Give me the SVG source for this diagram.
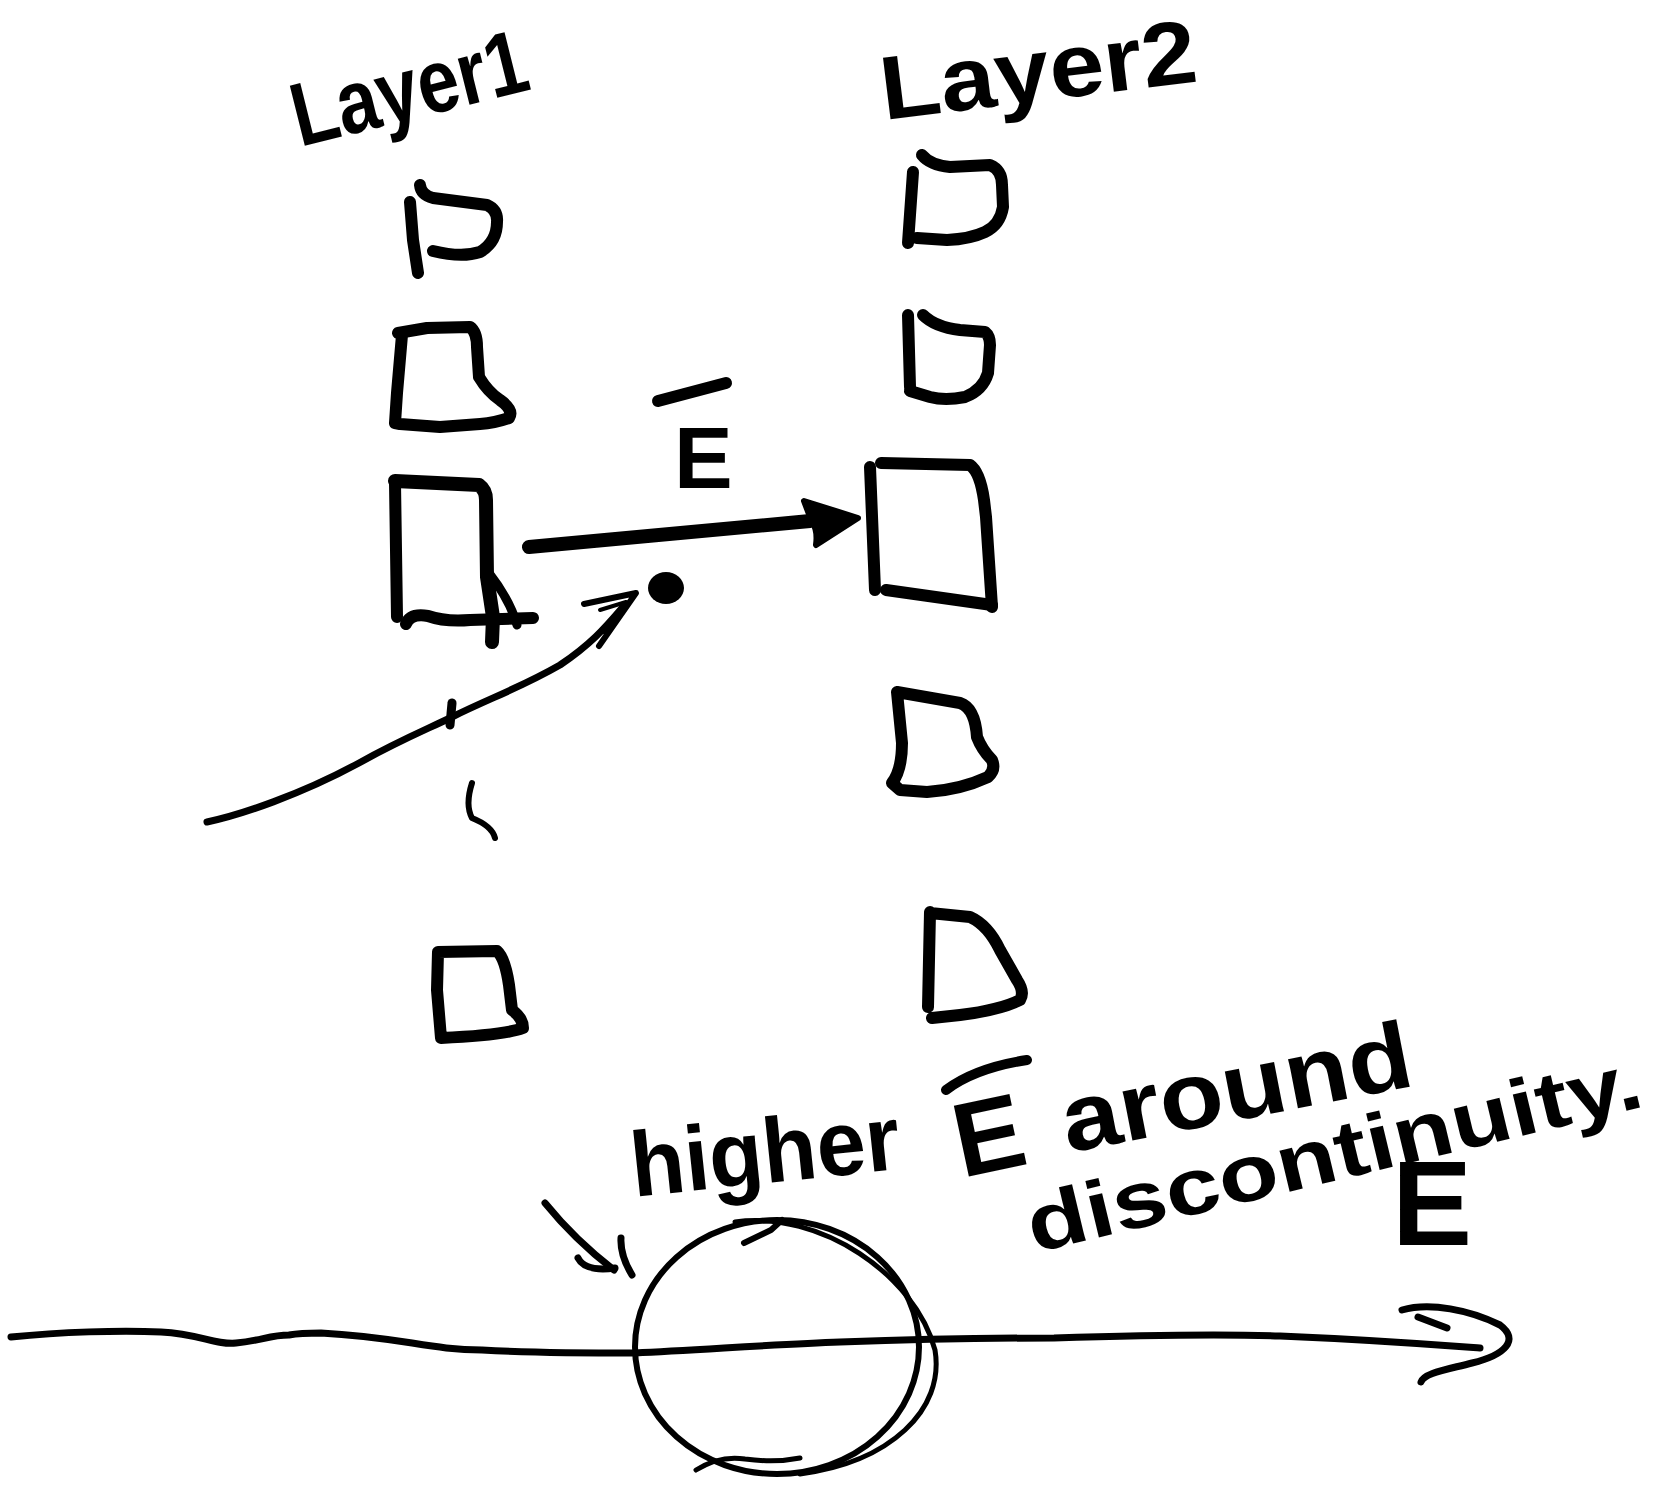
<svg xmlns="http://www.w3.org/2000/svg" width="1680" height="1486" viewBox="0 0 1680 1486">
<style>
.ink{fill:none;stroke:#000;stroke-linecap:round;stroke-linejoin:round}
.box{stroke-width:12}
.thin{stroke-width:7}
.txt{font-family:"Liberation Sans",Arial,sans-serif;font-weight:bold;fill:#000}
</style>
<rect width="1680" height="1486" fill="#fff"/>
<g id="label-layer1"><text class="txt" font-size="90" textLength="240" lengthAdjust="spacingAndGlyphs" transform="translate(300,147) rotate(-14)">Layer1</text></g>
<g id="label-layer2"><text class="txt" font-size="90" textLength="318" lengthAdjust="spacingAndGlyphs" transform="translate(884,120) rotate(-7)">Layer2</text></g>

<g id="l1-box1" class="ink box">
<path d="M410,202 L413,240 L418,273"/>
<path d="M420,185 Q421,195 433,198 L487,205 Q498,210 497,222 Q497,242 480,252 Q462,258 433,251"/>
</g>
<g id="l1-box2" class="ink box">
<path d="M398,333 L427,328 L470,327 Q477,332 477,347 L479,377 Q488,392 500,400 Q514,410 509,418 Q495,423 480,424 L440,427 L400,424 L395,423 L397,393 L402,335"/>
</g>
<g id="l1-box3" class="ink box">
<path d="M395,483 L397,617"/>
<path d="M395,481 L479,485 Q486,490 486,500 L487,577 L493,617 L492,642" stroke-width="14"/>
<path d="M489,573 Q510,600 517,625" stroke-width="9"/>
<path d="M406,624 Q410,613 428,616 Q445,622 470,620 L533,618"/>
</g>
<g id="l1-mark" class="ink"><path d="M472,783 Q465,805 472,818 Q492,826 495,838" stroke-width="6"/></g>
<g id="l1-box5" class="ink box">
<path d="M438,952 L497,951 Q505,958 509,985 L512,1010 Q523,1018 523,1028 Q505,1035 441,1038 L437,990 Z"/>
</g>

<g id="l2-box1" class="ink box">
<path d="M913,172 L908,243"/>
<path d="M922,155 Q930,165 950,167 L990,165 Q1002,170 1002,185 L1003,207 Q1000,225 985,232 Q970,239 947,240 L917,238"/>
</g>
<g id="l2-box2" class="ink box">
<path d="M908,315 L910,387"/>
<path d="M923,315 Q935,327 960,330 L985,332 Q990,336 990,345 L988,373 Q983,390 965,397 Q945,401 930,397 L910,391"/>
</g>
<g id="l2-box3" class="ink box">
<path d="M870,467 L875,590"/>
<path d="M881,463 L970,465 Q980,472 984,500 L986,517 L992,607"/>
<path d="M886,590 L992,605"/>
</g>
<g id="l2-box4" class="ink box">
<path d="M897,692 L960,703 Q975,708 977,737 Q982,750 992,760 Q996,770 988,777 Q960,790 927,792 L900,790 L892,783 Q902,770 902,743 Z"/>
</g>
<g id="l2-box5" class="ink box">
<path d="M930,912 L928,1007 M930,913 L970,917 Q988,925 1000,950 L1017,980 Q1025,992 1020,1000 Q1000,1010 960,1015 L932,1018"/>
</g>

<g id="label-E">
<path class="ink" d="M658,401 L726,383" stroke-width="12"/>
<text class="txt" font-size="88" x="674" y="488">E</text>
</g>
<g id="charge"><ellipse cx="666" cy="588" rx="18" ry="16" fill="#000"/></g>

<g id="connectors">
<g id="e-arrow">
<path class="ink" d="M529,547 L810,521" stroke-width="14"/>
<path d="M804,501 L858,518 L816,545 Q818,530 812,522 Z" fill="#000" stroke="#000" stroke-width="6" stroke-linejoin="round"/>
</g>
<g id="path-arrow" class="ink thin">
<path d="M207,822 C240,815 300,795 359,763 C400,740 430,728 452,717 C490,698 520,688 560,665 C590,645 605,628 622,608"/>
<path d="M452,703 L450,725" stroke-width="9"/>
<path d="M584,604 L636,593 L599,646" stroke-width="6"/>
<path d="M600,610 L626,602 L604,632" stroke-width="4"/>
</g>
<g id="axis" class="ink thin">
<path d="M11,1337 C60,1332 120,1330 161,1332 C200,1334 215,1345 236,1343 C260,1341 270,1335 289,1335 C300,1333 310,1333 321,1333 C400,1337 430,1350 482,1350 C540,1353 600,1353 635,1353 C700,1350 780,1344 840,1342 C950,1338 1000,1338 1054,1338 C1150,1335 1215,1334 1280,1336 C1376,1340 1440,1345 1480,1348"/>
<path d="M1402,1310 C1430,1302 1470,1310 1500,1325 C1520,1340 1505,1355 1472,1363 C1445,1370 1424,1373 1421,1382"/>
<path d="M1418,1317 L1447,1328"/>
</g>
<g id="small-arrow" class="ink thin">
<path d="M545,1203 Q575,1240 614,1270"/>
<path d="M578,1258 Q585,1272 615,1268"/>
<path d="M621,1238 Q620,1255 632,1275"/>
</g>
</g>

<g id="discontinuity-circle" class="ink">
<ellipse cx="777" cy="1347" rx="142" ry="127" stroke-width="6"/>
<path d="M735,1222 C820,1210 915,1275 935,1350 C945,1410 890,1462 800,1474" stroke-width="5"/>
<path d="M744,1243 L771,1230 L782,1220" stroke-width="6"/>
<path d="M696,1470 Q720,1455 745,1459 Q775,1463 800,1458" stroke-width="5"/>
</g>

<g id="note">
<text class="txt" font-size="92" textLength="270" lengthAdjust="spacingAndGlyphs" transform="translate(634,1197) rotate(-6)">higher</text>
<path class="ink" d="M946,1090 Q975,1068 1027,1060" stroke-width="10"/>
<text class="txt" font-size="105" transform="translate(962,1178) rotate(-12)">E</text>
<text class="txt" font-size="95" textLength="355" lengthAdjust="spacingAndGlyphs" transform="translate(1068,1153) rotate(-11)">around</text>
<text class="txt" font-size="80" textLength="630" lengthAdjust="spacingAndGlyphs" transform="translate(1034,1253) rotate(-13.5)">discontinuity.</text>
<text class="txt" font-size="120" x="1392" y="1245">E</text>
</g>
</svg>
